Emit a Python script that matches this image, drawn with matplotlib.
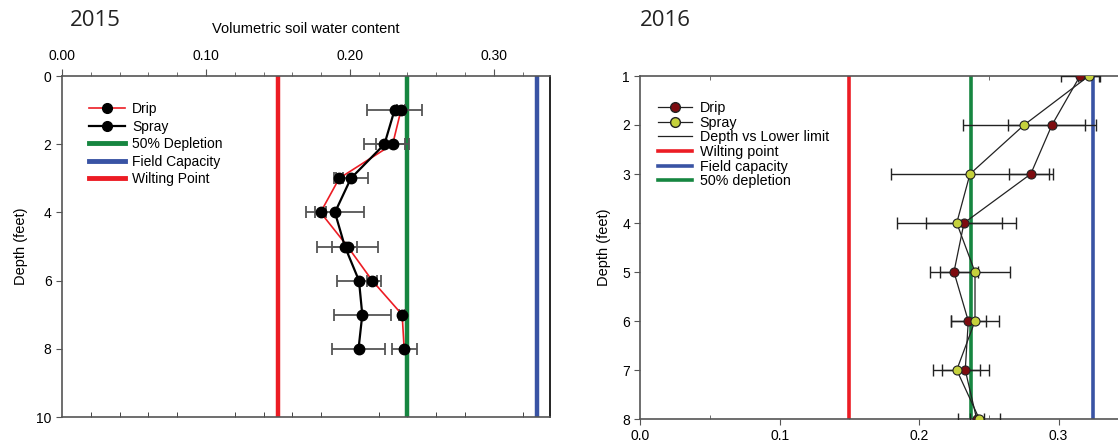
import matplotlib.pyplot as plt
from matplotlib.lines import Line2D
from matplotlib.ticker import MultipleLocator, FormatStrFormatter, NullFormatter

plt.rcParams['font.family'] = ['Liberation Sans', 'DejaVu Sans']

# 2015 data (depth in feet, volumetric water content)
depth15 = [1, 2, 3, 4, 5, 6, 7, 8]
drip15 = [0.2355, 0.2297, 0.1926, 0.1796, 0.1984, 0.2155, 0.2363, 0.2377]
drip15_err = [0.003, 0.0113, 0.0023, 0.004, 0.0214, 0.0035, 0.002, 0.0088]
spray15 = [0.231, 0.224, 0.2007, 0.1896, 0.1965, 0.2063, 0.2086, 0.206]
spray15_err = [0.019, 0.014, 0.012, 0.0204, 0.0087, 0.015, 0.0197, 0.0183]
wilting15 = 0.15
depletion15 = 0.24
field15 = 0.33

# 2016 data
depth16 = [1, 2, 3, 4, 5, 6, 7, 8]
drip16 = [0.3154, 0.2953, 0.2801, 0.2322, 0.225, 0.2353, 0.2331, 0.2413]
drip16_err = [0.0136, 0.0316, 0.0158, 0.0273, 0.0172, 0.0126, 0.0168, 0.005]
spray16 = [0.3217, 0.2753, 0.2365, 0.227, 0.2401, 0.2401, 0.227, 0.2432]
spray16_err = [0.008, 0.044, 0.0567, 0.0426, 0.0251, 0.0172, 0.0168, 0.0151]
wilting16 = 0.15
depletion16 = 0.237
field16 = 0.3245

RED = '#ec1c24'
GREEN = '#168640'
BLUE = '#3953a4'
AXC = '#555555'

fig = plt.figure(figsize=(11.18, 4.44), dpi=100)

# ---------- 2015 ----------
ax1 = fig.add_axes([62 / 1118, 27 / 444, 488 / 1118, 341 / 444])
ax1.axvline(wilting15, color=RED, lw=3.2, zorder=2)
ax1.axvline(depletion15, color=GREEN, lw=3.2, zorder=2)
ax1.axvline(field15, color=BLUE, lw=3.2, zorder=2)
ax1.errorbar(spray15, depth15, xerr=spray15_err, fmt='none', ecolor=AXC,
             elinewidth=1.3, capsize=4, capthick=1.3, zorder=3)
ax1.errorbar(drip15, depth15, xerr=drip15_err, fmt='none', ecolor=AXC,
             elinewidth=1.3, capsize=4, capthick=1.3, zorder=3)
ax1.plot(drip15, depth15, color=RED, lw=1.2, marker='o', ms=7.5,
         mfc='black', mec='black', zorder=4)
ax1.plot(spray15, depth15, color='black', lw=1.6, marker='o', ms=7.5,
         mfc='black', mec='black', zorder=5)

ax1.set_xlim(0, 0.339)
ax1.set_ylim(10, 0)
# bottom axis: small inward ticks only, no labels
ax1.xaxis.set_major_locator(MultipleLocator(0.1))
ax1.xaxis.set_minor_locator(MultipleLocator(0.02))
ax1.xaxis.set_major_formatter(NullFormatter())
ax1.tick_params(axis='x', which='major', length=0, top=False)
ax1.tick_params(axis='x', which='minor', direction='in', length=3.5,
                color='#222222', top=False)

ax1.yaxis.set_major_locator(MultipleLocator(2))
ax1.tick_params(axis='y', direction='out', length=4, labelsize=10, color=AXC)
ax1.set_ylabel('Depth (feet)', fontsize=10.5, labelpad=6)
for s in ax1.spines.values():
    s.set_color(AXC)
    s.set_linewidth(1.2)
ax1.spines['right'].set_color('black')

# top axis: labelled, outward ticks
top = ax1.twiny()
top.set_xlim(ax1.get_xlim())
top.xaxis.set_major_locator(MultipleLocator(0.1))
top.xaxis.set_major_formatter(FormatStrFormatter('%.2f'))
top.xaxis.set_minor_locator(MultipleLocator(0.02))
top.tick_params(axis='x', which='both', direction='out', labelsize=10,
                color=AXC, pad=4)
top.tick_params(axis='x', which='major', length=5)
top.tick_params(axis='x', which='minor', length=3)
top.set_xlabel('Volumetric soil water content', fontsize=10.5, labelpad=12)
for s in top.spines.values():
    s.set_visible(False)

h1 = [Line2D([], [], color=RED, lw=1.2, marker='o', ms=7, mfc='black', mec='black'),
      Line2D([], [], color='black', lw=1.6, marker='o', ms=7, mfc='black', mec='black'),
      Line2D([], [], color=GREEN, lw=3.5),
      Line2D([], [], color=BLUE, lw=3.5),
      Line2D([], [], color=RED, lw=3.5)]
top.legend(h1, ['Drip', 'Spray', '50% Depletion', 'Field Capacity', 'Wilting Point'],
           loc='upper left', bbox_to_anchor=(0.03, 0.96), frameon=False,
           fontsize=10, handlelength=2.6, labelspacing=0.25, handletextpad=0.5)

fig.text(70 / 1118, 1 - 21 / 444, '2015', fontsize=16, family='Open Sans',
         va='center', ha='left', color='#222222')

# ---------- 2016 ----------
ax2 = fig.add_axes([640.3 / 1118, 25 / 444, 0.35 * 1394 / 1118, 343 / 444])
ax2.axvline(wilting16, color=RED, lw=2.6, zorder=2)
ax2.axvline(depletion16, color=GREEN, lw=2.6, zorder=2)
ax2.axvline(field16, color=BLUE, lw=2.6, zorder=2)
ax2.errorbar(drip16, depth16, xerr=drip16_err, fmt='none', ecolor='#222222',
             elinewidth=1.0, capsize=4, capthick=1.0, zorder=3)
ax2.errorbar(spray16, depth16, xerr=spray16_err, fmt='none', ecolor='#222222',
             elinewidth=1.0, capsize=4, capthick=1.0, zorder=3)
ax2.plot(drip16, depth16, color='#222222', lw=0.9, marker='o', ms=6.5,
         mfc='#7d0c10', mec='#222222', mew=0.8, zorder=4)
ax2.plot(spray16, depth16, color='#222222', lw=0.9, marker='o', ms=6.5,
         mfc='#c5d13c', mec='#222222', mew=0.8, zorder=5)

ax2.set_xlim(0, 0.35)
ax2.set_ylim(8, 1)
ax2.xaxis.set_major_locator(MultipleLocator(0.1))
ax2.xaxis.set_major_formatter(FormatStrFormatter('%.1f'))
ax2.xaxis.set_minor_locator(MultipleLocator(0.05))
ax2.tick_params(axis='x', which='major', direction='out', length=4,
                labelsize=10, color=AXC)
ax2.tick_params(axis='x', which='minor', direction='in', length=3,
                top=True, color=AXC)
ax2.yaxis.set_major_locator(MultipleLocator(1))
ax2.tick_params(axis='y', direction='out', length=4, labelsize=10, color=AXC)
ax2.set_ylabel('Depth (feet)', fontsize=10.5, labelpad=8)
ax2.spines['right'].set_visible(False)
for s in ['left', 'top', 'bottom']:
    ax2.spines[s].set_color(AXC)
    ax2.spines[s].set_linewidth(1.2)

h2 = [Line2D([], [], color='#222222', lw=0.9, marker='o', ms=7, mfc='#7d0c10', mec='#222222'),
      Line2D([], [], color='#222222', lw=0.9, marker='o', ms=7, mfc='#c5d13c', mec='#222222'),
      Line2D([], [], color='#222222', lw=0.9),
      Line2D([], [], color=RED, lw=2.6),
      Line2D([], [], color=BLUE, lw=2.6),
      Line2D([], [], color=GREEN, lw=2.6)]
ax2.legend(h2, ['Drip', 'Spray', 'Depth vs Lower limit', 'Wilting point',
                'Field capacity', '50% depletion'],
           loc='upper left', bbox_to_anchor=(0.01, 0.965), frameon=False,
           fontsize=10.3, handlelength=2.4, labelspacing=0.05, handletextpad=0.5)

fig.text(640 / 1118, 1 - 20 / 444, '2016', fontsize=16, family='Open Sans',
         va='center', ha='left', color='#222222')

fig.savefig('out.png', dpi=100)
